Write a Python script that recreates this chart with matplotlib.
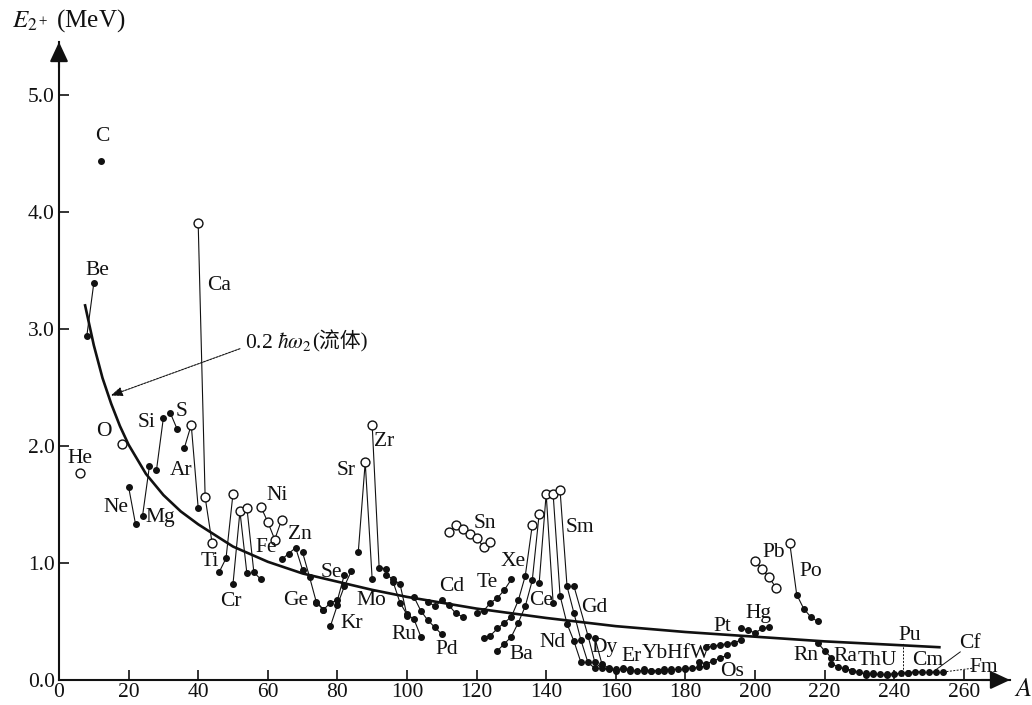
import matplotlib
matplotlib.use("Agg")
import matplotlib.pyplot as plt

plt.rcParams['font.family'] = ['Liberation Serif', 'Noto Sans CJK SC']
plt.rcParams['mathtext.fontset'] = 'stix'

# Isotope chains: (mass number A, energy of the first 2+ state in MeV)
He = ([6], [1.77])
Be = ([8, 10], [2.94, 3.39])
C = ([12], [4.43])
O = ([18], [2.02])
Ne = ([20, 22], [1.65, 1.33])
Mg = ([24, 26], [1.40, 1.83])
Si = ([28, 30], [1.79, 2.24])
S = ([32, 34], [2.28, 2.14])
Ar = ([36, 38, 40], [1.98, 2.18, 1.47])
Ca = ([40, 42, 44], [3.90, 1.56, 1.17])
Ti = ([46, 48, 50], [0.92, 1.04, 1.59])
Cr = ([50, 52, 54], [0.82, 1.44, 0.91])
Fe = ([54, 56, 58], [1.47, 0.92, 0.86])
Ni = ([58, 60, 62, 64], [1.48, 1.35, 1.20, 1.37])
Zn = ([64, 66, 68, 70], [1.03, 1.08, 1.13, 0.94])
Ge = ([70, 72, 74, 76], [1.09, 0.88, 0.66, 0.60])
Se = ([74, 76, 78, 80, 82], [0.67, 0.60, 0.66, 0.68, 0.90])
Kr = ([78, 80, 82, 84], [0.46, 0.64, 0.80, 0.93])
Sr = ([86, 88, 90], [1.09, 1.86, 0.86])
Zr = ([90, 92, 94], [2.18, 0.96, 0.95])
Mo = ([94, 96, 98, 100], [0.90, 0.86, 0.82, 0.55])
Ru = ([96, 98, 100, 102, 104], [0.84, 0.66, 0.56, 0.52, 0.37])
Pd = ([102, 104, 106, 108, 110], [0.71, 0.59, 0.51, 0.45, 0.39])
Cd = ([106, 108, 110, 112, 114, 116], [0.67, 0.63, 0.68, 0.64, 0.57, 0.54])
Sn = ([112, 114, 116, 118, 120, 122, 124], [1.26, 1.32, 1.29, 1.25, 1.21, 1.14, 1.18])
Te = ([120, 122, 124, 126, 128, 130], [0.57, 0.59, 0.66, 0.70, 0.77, 0.86])
Xe = ([122, 124, 126, 128, 130, 132, 134, 136], [0.36, 0.38, 0.44, 0.49, 0.54, 0.68, 0.89, 1.32])
Ba = ([126, 128, 130, 132, 134, 136, 138], [0.25, 0.31, 0.37, 0.49, 0.63, 0.85, 1.42])
Ce = ([138, 140, 142], [0.83, 1.59, 0.66])
Nd = ([142, 144, 146, 148, 150], [1.59, 0.72, 0.48, 0.33, 0.15])
Sm = ([144, 146, 148, 150, 152, 154], [1.62, 0.80, 0.57, 0.34, 0.15, 0.10])
Gd = ([148, 152, 154, 156, 158, 160], [0.80, 0.38, 0.15, 0.10, 0.09, 0.08])
Dy = ([154, 156, 158, 160, 162, 164], [0.36, 0.14, 0.10, 0.09, 0.09, 0.08])
Er = ([162, 164, 166, 168, 170], [0.10, 0.09, 0.08, 0.08, 0.08])
Yb = ([168, 170, 172, 174, 176], [0.09, 0.08, 0.08, 0.08, 0.08])
Hf = ([174, 176, 178, 180], [0.09, 0.09, 0.09, 0.09])
W = ([180, 182, 184, 186], [0.10, 0.10, 0.11, 0.12])
Os = ([184, 186, 188, 190, 192], [0.15, 0.14, 0.16, 0.19, 0.21])
Pt = ([186, 188, 190, 192, 194, 196], [0.28, 0.29, 0.30, 0.31, 0.32, 0.34])
Hg = ([196, 198, 200, 202, 204], [0.44, 0.43, 0.40, 0.44, 0.45])
Pb = ([200, 202, 204, 206], [1.02, 0.95, 0.88, 0.79])
Po = ([210, 212, 214, 216, 218], [1.17, 0.73, 0.61, 0.54, 0.50])
Rn = ([218, 220, 222], [0.32, 0.25, 0.19])
Ra = ([222, 224, 226, 228], [0.14, 0.11, 0.09, 0.08])
Th = ([226, 228, 230, 232, 234], [0.10, 0.08, 0.07, 0.04, 0.06])
U = ([232, 234, 236, 238], [0.06, 0.05, 0.05, 0.04])
Pu = ([238, 240, 242, 244], [0.05, 0.05, 0.06, 0.06])
Cm = ([244, 246, 248], [0.06, 0.07, 0.07])
Cf = ([250, 252], [0.07, 0.07])
Fm = ([254], [0.07])

# Closed-shell (magic) nuclei, drawn as open circles
closed_shell = {
    "He": [6], "O": [18], "Ar": [38], "Ca": [40, 42, 44], "Ti": [50],
    "Cr": [52], "Fe": [54], "Ni": [58, 60, 62, 64], "Sr": [88], "Zr": [90],
    "Sn": [112, 114, 116, 118, 120, 122, 124], "Xe": [136], "Ba": [138],
    "Ce": [140], "Nd": [142], "Sm": [144], "Pb": [200, 202, 204, 206],
    "Po": [210],
}

# Hydrodynamic estimate 0.2 hbar*omega_2
curve_A = [7.5, 10, 12.5, 15, 17.5, 20, 25, 30, 35, 40, 50, 60, 70, 80, 90,
           100, 120, 140, 160, 180, 200, 220, 240, 253]
curve_E = [3.20, 2.86, 2.58, 2.36, 2.17, 2.01, 1.76, 1.58, 1.44, 1.33, 1.14,
           1.01, 0.91, 0.84, 0.77, 0.71, 0.61, 0.53, 0.46, 0.41, 0.37, 0.33,
           0.30, 0.28]

chains = {
    "He": He, "Be": Be, "C": C, "O": O, "Ne": Ne, "Mg": Mg, "Si": Si, "S": S,
    "Ar": Ar, "Ca": Ca, "Ti": Ti, "Cr": Cr, "Fe": Fe, "Ni": Ni, "Zn": Zn,
    "Ge": Ge, "Se": Se, "Kr": Kr, "Sr": Sr, "Zr": Zr, "Mo": Mo, "Ru": Ru,
    "Pd": Pd, "Cd": Cd, "Sn": Sn, "Te": Te, "Xe": Xe, "Ba": Ba, "Ce": Ce,
    "Nd": Nd, "Sm": Sm, "Gd": Gd, "Dy": Dy, "Er": Er, "Yb": Yb, "Hf": Hf,
    "W": W, "Os": Os, "Pt": Pt, "Hg": Hg, "Pb": Pb, "Po": Po, "Rn": Rn,
    "Ra": Ra, "Th": Th, "U": U, "Pu": Pu, "Cm": Cm, "Cf": Cf, "Fm": Fm,
}

# Element name placement (A, E)
label_pos = {
    "C": (12.4, 4.64), "Be": (10.9, 3.50), "Ca": (46.0, 3.37), "O": (12.9, 2.12),
    "Si": (25.3, 2.20), "S": (35.3, 2.29), "He": (6.0, 1.89), "Ar": (35.1, 1.79),
    "Ne": (16.4, 1.47), "Mg": (29.0, 1.39), "Ni": (62.6, 1.58), "Ti": (43.4, 1.01),
    "Fe": (59.5, 1.13), "Zn": (69.3, 1.24), "Cr": (49.4, 0.67), "Ge": (68.1, 0.68),
    "Se": (78.4, 0.92), "Kr": (84.2, 0.48), "Sr": (82.5, 1.79), "Zr": (93.4, 2.04),
    "Mo": (89.9, 0.68), "Ru": (99.1, 0.39), "Pd": (111.5, 0.26), "Cd": (112.9, 0.80),
    "Sn": (122.4, 1.34), "Te": (123.0, 0.83), "Xe": (130.5, 1.01), "Ce": (138.5, 0.68),
    "Sm": (149.7, 1.30), "Ba": (133.0, 0.22), "Nd": (141.7, 0.32), "Gd": (153.7, 0.62),
    "Dy": (156.9, 0.28), "Er": (164.6, 0.20), "YbHfW": (177.4, 0.23), "Os": (193.4, 0.07),
    "Pt": (190.5, 0.46), "Hg": (200.9, 0.57), "Pb": (205.5, 1.09), "Po": (216.1, 0.93),
    "Rn": (214.7, 0.21), "Ra": (226.1, 0.20), "ThU": (235.1, 0.17), "Pu": (244.5, 0.38),
    "Cm": (249.7, 0.17), "Cf": (261.8, 0.31), "Fm": (265.8, 0.11),
}

fig = plt.figure(figsize=(10.32, 7.05), dpi=100)
ax = fig.add_axes([59 / 1032, 25 / 705, 951 / 1032, 638 / 705])
ax.set_xlim(0, 273.3)
ax.set_ylim(0, 5.45)
ax.patch.set_alpha(0)

for side in ("top", "right"):
    ax.spines[side].set_visible(False)
for side in ("left", "bottom"):
    ax.spines[side].set_linewidth(1.5)
    ax.spines[side].set_color("#111111")

head = dict(arrowstyle="-|>,head_length=0.6,head_width=0.28", color="#111111",
            lw=1.5, mutation_scale=20, shrinkA=0, shrinkB=0)
ax.annotate("", xy=(1.0, 0.0), xytext=(0.97, 0.0), xycoords="axes fraction",
            arrowprops=head, annotation_clip=False)
ax.annotate("", xy=(0.0, 1.0), xytext=(0.0, 0.96), xycoords="axes fraction",
            arrowprops=head, annotation_clip=False)

ax.set_xticks(range(0, 261, 20))
ax.set_xticklabels([str(v) for v in range(0, 261, 20)])
ax.set_yticks([0, 1, 2, 3, 4, 5])
ax.set_yticklabels(["0.0", "1.0", "2.0", "3.0", "4.0", "5.0"])
ax.tick_params(direction="in", length=7, width=1.2, labelsize=15.5,
               color="#111111", labelcolor="#111111")
ax.tick_params(axis="y", pad=3)
ax.tick_params(axis="x", pad=2)

# fluid-model curve
ax.plot(curve_A, curve_E, color="#111111", lw=1.9, zorder=3)

# isotope chains
for name, (a_vals, e_vals) in chains.items():
    ax.plot(a_vals, e_vals, color="#111111", lw=0.8, zorder=4)
    opened = closed_shell.get(name, [])
    fa = [a for a in a_vals if a not in opened]
    fe = [e for a, e in zip(a_vals, e_vals) if a not in opened]
    oa = [a for a in a_vals if a in opened]
    oe = [e for a, e in zip(a_vals, e_vals) if a in opened]
    ax.plot(fa, fe, "o", ms=4.0, mfc="#111111", mec="#111111", zorder=5)
    ax.plot(oa, oe, "o", ms=6.4, mfc="white", mec="#111111", mew=1.0, zorder=6)

for name, (x, y) in label_pos.items():
    ax.text(x, y, name, fontsize=15.5, ha="center", va="center",
            color="#111111", zorder=7)

# leader lines
ax.plot([242.5, 242.5], [0.03, 0.32], color="#111111", lw=0.7, ls=(0, (2, 1.5)))
ax.plot([259.0, 251.2], [0.24, 0.07], color="#111111", lw=0.7)
ax.plot([262.4, 254.6], [0.10, 0.07], color="#111111", lw=0.7, ls=(0, (2, 1.5)))

# curve annotation
ax.annotate("", xy=(14.9, 2.43), xytext=(52.0, 2.83),
            arrowprops=dict(arrowstyle="-|>,head_length=0.5,head_width=0.2",
                            color="#111111", lw=0.8, ls=(0, (2, 1)),
                            mutation_scale=14, shrinkA=0, shrinkB=0))
t1 = ax.text(53.4, 2.89, r"0.2 $\hbar\omega_2$", fontsize=15.5, ha="left",
             va="center", color="#111111")
ax.annotate("(流体)", xy=(1.0, 0.5), xycoords=t1, ha="left", va="center",
            fontsize=15, color="#111111")

fig.text(12 / 1032, 1 - 21 / 705, r"$E_{2^+}$ (MeV)", fontsize=18,
         ha="left", va="center", color="#111111")
fig.text(1014 / 1032, 1 - 690 / 705, r"$A$", fontsize=19, ha="left",
         va="center", color="#111111")

fig.savefig("out.png", dpi=100)
